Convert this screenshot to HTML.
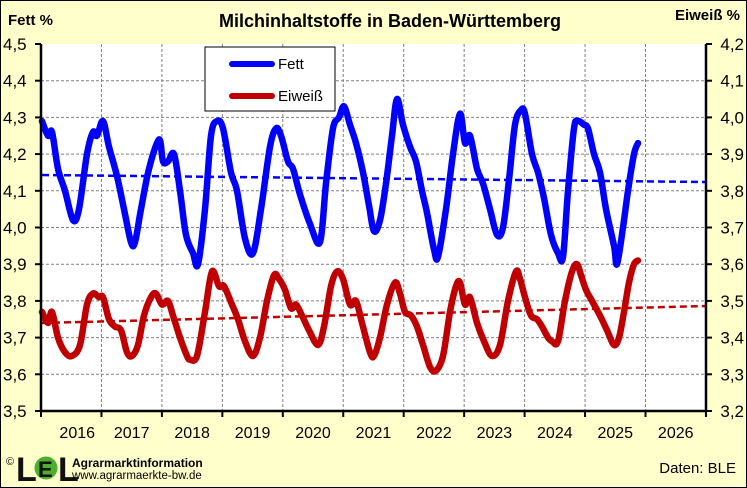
<!DOCTYPE html>
<html><head><meta charset="utf-8"><style>
body{margin:0;width:747px;height:488px;overflow:hidden;background:#fff}
svg{display:block;font-family:"Liberation Sans",Arial,sans-serif}
</style></head><body>
<svg id="s" width="747" height="488" viewBox="0 0 747 488">
<rect x="0.5" y="0.5" width="746" height="487" fill="#FFFFCC" stroke="#000"/>
<rect x="41" y="44" width="665" height="367" fill="#fff"/>
<g id="grid" stroke="#808080" stroke-width="1" stroke-dasharray="3,2"></g>
<g id="trend" fill="none" stroke-width="2.5" stroke-dasharray="7,4"></g>
<g id="lines" fill="none" stroke-width="6.5" stroke-linejoin="round" stroke-linecap="round"></g>
<line x1="41" y1="44" x2="41" y2="411" stroke="#000" stroke-width="2.5"/>
<line x1="706" y1="44" x2="706" y2="411" stroke="#000" stroke-width="2.5"/>
<line x1="41" y1="411" x2="706" y2="411" stroke="#000" stroke-width="2.5"/>
<g id="ticks" stroke="#000" stroke-width="2"></g>
<g id="labels" font-size="17" fill="#000"></g>
<text x="8" y="25" font-size="15" font-weight="bold">Fett %</text>
<text x="390" y="27" font-size="18" font-weight="bold" text-anchor="middle">Milchinhaltstoffe in Baden-Württemberg</text>
<text x="740" y="20" font-size="15" font-weight="bold" text-anchor="end">Eiweiß  %</text>
<rect x="205" y="47" width="130" height="64" fill="#fff" stroke="#000"/>
<line x1="232" y1="64" x2="272" y2="64" stroke="#0000FF" stroke-width="6" stroke-linecap="round"/>
<text x="278" y="69" font-size="15">Fett</text>
<line x1="232" y1="96" x2="272" y2="96" stroke="#C00000" stroke-width="6" stroke-linecap="round"/>
<text x="278" y="101" font-size="15">Eiweiß</text>
<text x="6" y="465" font-size="11">©</text>
<text x="16" y="481" font-size="34" font-weight="bold" fill="#111">L</text>
<circle cx="46" cy="468" r="11.5" fill="#4caf2e"/>
<text x="38" y="477" font-size="22" font-weight="bold" fill="#111">E</text>
<text x="58" y="481" font-size="34" font-weight="bold" fill="#111">L</text>
<text x="72" y="467" font-size="12" font-weight="bold">Agrarmarktinformation</text>
<text x="72" y="479" font-size="11.5">www.agrarmaerkte-bw.de</text>
<text x="736" y="473" font-size="15" text-anchor="end">Daten:  BLE</text>
</svg>
<script>
var NS="http://www.w3.org/2000/svg";
function el(p,t,a,txt){var e=document.createElementNS(NS,t);for(var k in a)e.setAttribute(k,a[k]);if(txt)e.textContent=txt;document.getElementById(p).appendChild(e);}
function Y(v){return 44+(4.5-v)*367;}
var xw=60.45;
for(var i=1;i<11;i++){var x=41+i*xw;el('grid','line',{x1:x,y1:44,x2:x,y2:411});}
for(var j=1;j<10;j++){var y=44+j*36.7;el('grid','line',{x1:41,y1:y,x2:706,y2:y});}
for(var i=0;i<=11;i++){var x=41+i*xw;el('ticks','line',{x1:x,y1:411,x2:x,y2:417});}
for(var j=0;j<=10;j++){var y=44+j*36.7;el('ticks','line',{x1:35,y1:y,x2:41,y2:y});el('ticks','line',{x1:706,y1:y,x2:712,y2:y});
var l=(4.5-j*0.1).toFixed(1).replace('.',','),r=(4.2-j*0.1).toFixed(1).replace('.',',');
el('labels','text',{x:3,y:y+6},l);el('labels','text',{x:744,y:y+6,'text-anchor':'end'},r);}
for(var i=0;i<11;i++){el('labels','text',{x:41+i*xw+xw/2+(i==0?6:0),y:438,'text-anchor':'middle','font-size':'16'},String(2016+i));}
var F=[[42,4.29],[48,4.25],[52,4.26],[58,4.16],[65,4.10],[73,4.02],[79,4.05],[87,4.20],[93,4.26],[97,4.25],[103,4.29],[109,4.22],[117,4.14],[124,4.05],[131,3.96],[135,3.96],[141,4.05],[149,4.16],[159,4.24],[163,4.18],[168,4.18],[174,4.20],[180,4.10],[186,3.98],[193,3.93],[198,3.90],[205,4.05],[211,4.25],[217,4.29],[223,4.27],[231,4.15],[237,4.10],[245,3.97],[253,3.93],[261,4.05],[270,4.22],[276,4.27],[281,4.25],[288,4.18],[293,4.16],[300,4.09],[310,4.01],[320,3.96],[326,4.12],[333,4.27],[339,4.30],[344,4.33],[350,4.28],[356,4.23],[363,4.15],[369,4.06],[374,3.99],[380,4.02],[386,4.12],[392,4.25],[397,4.35],[403,4.28],[410,4.22],[416,4.18],[422,4.10],[427,4.04],[434,3.94],[438,3.92],[446,4.05],[453,4.20],[460,4.31],[465,4.23],[470,4.25],[477,4.16],[483,4.12],[490,4.05],[497,3.98],[503,4.00],[509,4.13],[515,4.28],[521,4.32],[525,4.31],[532,4.20],[538,4.15],[544,4.08],[551,3.98],[558,3.93],[563,3.92],[568,4.10],[574,4.27],[578,4.29],[584,4.28],[588,4.27],[594,4.20],[600,4.15],[606,4.05],[614,3.95],[617,3.90],[623,4.00],[628,4.10],[634,4.20],[638,4.23]];
var E=[[42,3.77],[48,3.74],[52,3.77],[58,3.70],[65,3.66],[72,3.65],[80,3.68],[87,3.79],[93,3.82],[99,3.81],[103,3.81],[109,3.75],[115,3.73],[121,3.72],[127,3.66],[132,3.65],[138,3.68],[144,3.76],[151,3.81],[156,3.82],[162,3.79],[168,3.80],[173,3.76],[180,3.70],[187,3.65],[190,3.64],[197,3.65],[205,3.77],[212,3.88],[219,3.84],[224,3.84],[232,3.79],[238,3.75],[245,3.69],[253,3.65],[260,3.70],[267,3.80],[274,3.87],[279,3.86],[285,3.83],[291,3.78],[296,3.79],[302,3.76],[309,3.72],[318,3.68],[324,3.73],[331,3.84],[337,3.88],[343,3.86],[350,3.79],[356,3.80],[362,3.74],[370,3.66],[374,3.65],[380,3.70],[387,3.79],[395,3.85],[400,3.82],[405,3.77],[411,3.76],[417,3.73],[423,3.68],[430,3.62],[436,3.61],[443,3.65],[450,3.77],[456,3.84],[460,3.85],[465,3.79],[470,3.81],[477,3.74],[484,3.69],[492,3.65],[500,3.68],[508,3.80],[516,3.88],[520,3.86],[525,3.81],[531,3.76],[537,3.75],[542,3.73],[548,3.70],[552,3.69],[558,3.69],[565,3.80],[572,3.88],[577,3.90],[581,3.87],[586,3.83],[592,3.80],[600,3.76],[607,3.72],[614,3.68],[619,3.70],[624,3.77],[629,3.85],[634,3.90],[638,3.91]];
function path(d){var p=d.map(function(a){return [a[0],Y(a[1])];});var s='M'+p[0][0]+','+p[0][1];
for(var i=0;i<p.length-1;i++){var a=p[i-1]||p[i],b=p[i],c=p[i+1],e=p[i+2]||c;
s+=' C'+(b[0]+(c[0]-a[0])/6)+','+(b[1]+(c[1]-a[1])/6)+' '+(c[0]-(e[0]-b[0])/6)+','+(c[1]-(e[1]-b[1])/6)+' '+c[0]+','+c[1];}return s;}
el('trend','line',{x1:42,y1:175,x2:706,y2:182,stroke:'#0000FF'});
el('trend','line',{x1:42,y1:323,x2:706,y2:306,stroke:'#C00000'});
el('lines','path',{d:path(F),stroke:'#0000FF'});
el('lines','path',{d:path(E),stroke:'#C00000'});
</script>
</body></html>
